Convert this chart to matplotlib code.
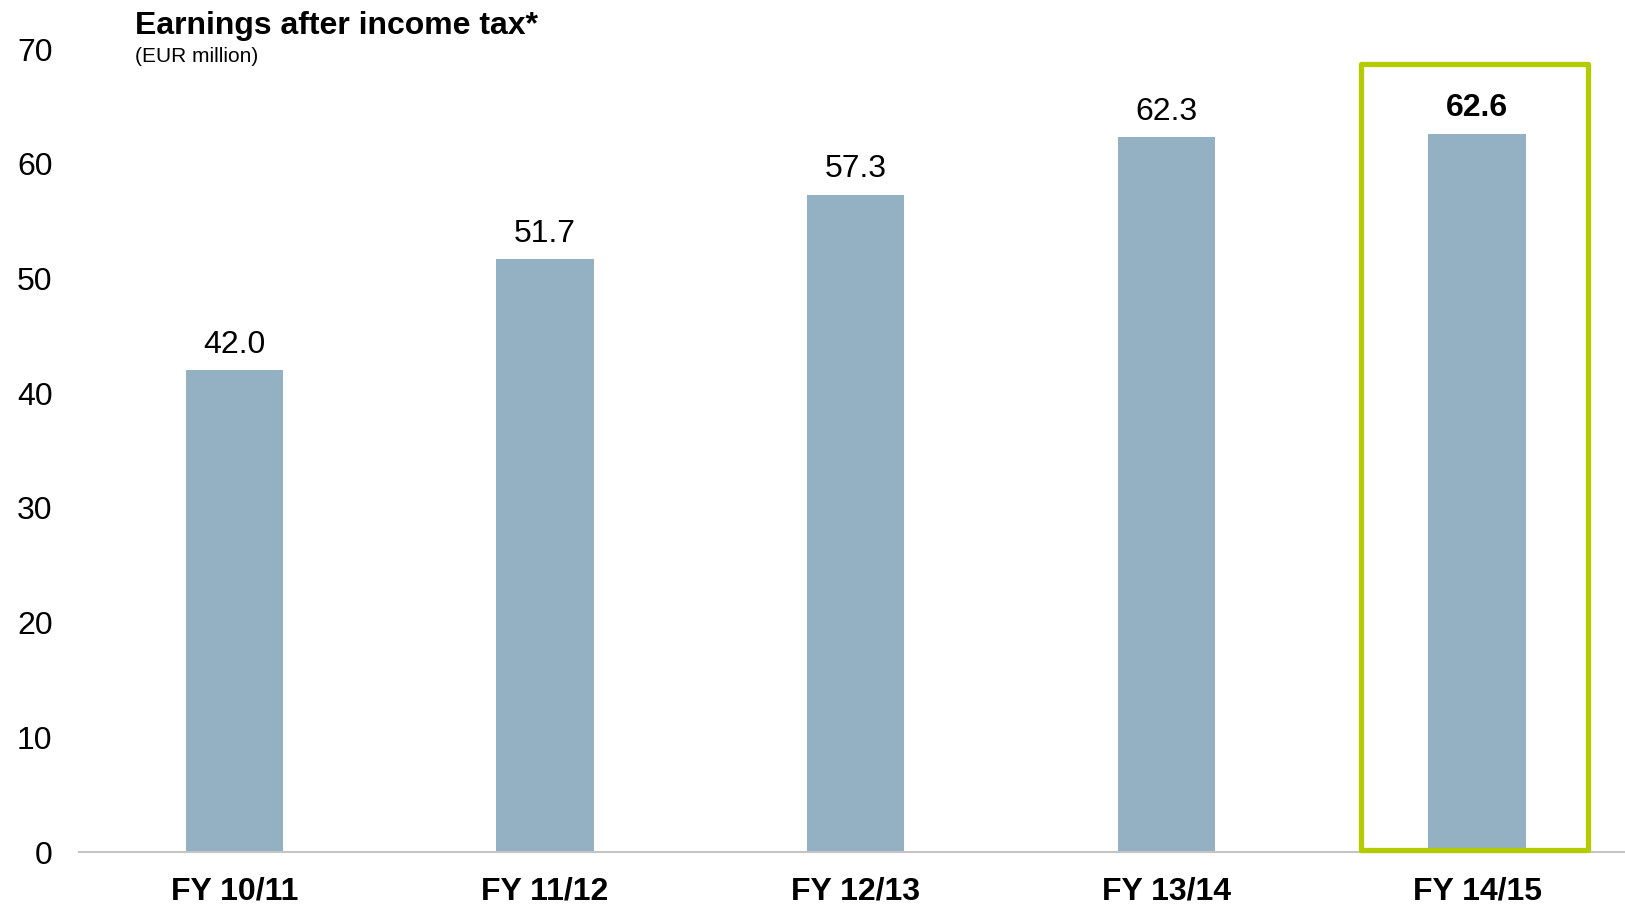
import numpy as np
import matplotlib.pyplot as plt
from matplotlib.patches import Rectangle

plt.rcParams['font.family'] = ['Liberation Sans', 'DejaVu Sans']

# Earnings after income tax, EUR million
years = ['FY 10/11', 'FY 11/12', 'FY 12/13', 'FY 13/14', 'FY 14/15']
earnings = [42.0, 51.7, 57.3, 62.3, 62.6]
highlight = 4  # latest year gets the green frame

bar_color = '#93B1C2'
frame_color = '#B4CB00'

fig = plt.figure(figsize=(16.25, 9.06), dpi=100)
ax = fig.add_axes([0.0486, 0.0596, 0.9514, 0.8863])

x = np.arange(len(years))
ax.bar(x, earnings, width=0.313, color=bar_color, zorder=2)

for i, v in enumerate(earnings):
    ax.annotate(f'{v:.1f}', (x[i], v), xytext=(0, 7.5), textcoords='offset points',
                ha='center', va='bottom', fontsize=23,
                fontweight='bold' if i == highlight else 'normal')

# frame around the latest year
ax.add_patch(Rectangle((x[highlight] - 0.373, 0.15), 0.73, 68.55, fill=False,
                       edgecolor=frame_color, linewidth=3.8, joinstyle='round',
                       clip_on=False, zorder=3))

ax.set_xlim(-0.5, 4.476)
ax.set_ylim(0, 70)
ax.set_yticks(range(0, 71, 10))
ax.set_xticks(x)
ax.set_xticklabels(years, fontsize=23, fontweight='bold')
ax.tick_params(axis='y', length=0, labelsize=23, pad=19)
ax.tick_params(axis='x', length=0, pad=17.5)

for side in ['top', 'right', 'left']:
    ax.spines[side].set_visible(False)
ax.spines['bottom'].set_color('#C4C4C4')
ax.spines['bottom'].set_linewidth(1.5)

fig.text(135 / 1625, 1 - 26 / 906, 'Earnings after income tax*', fontsize=23,
         fontweight='bold', ha='left', va='center')
fig.text(135 / 1625, 1 - 57 / 906, '(EUR million)', fontsize=15,
         ha='left', va='center')

fig.savefig('out.png', dpi=100)
